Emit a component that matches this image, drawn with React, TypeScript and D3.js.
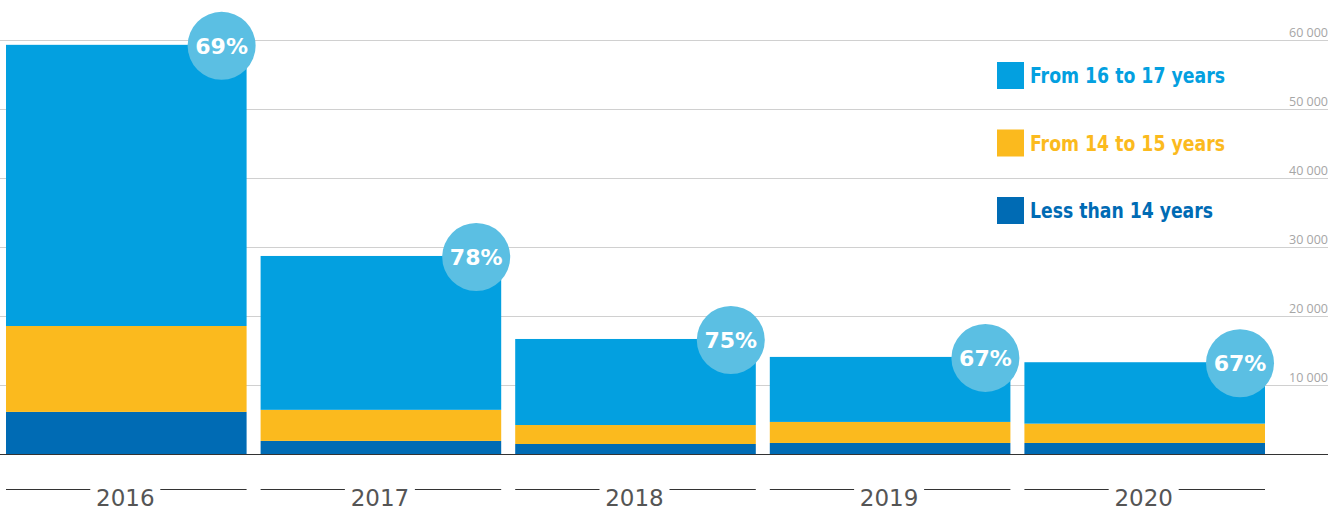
import React, { useRef, useEffect } from 'react';
import * as d3 from 'd3';

const years = ['2016', '2017', '2018', '2019', '2020'];
const lessThan14 = [6100, 1900, 1450, 1600, 1600];
const from14to15 = [12450, 4500, 2750, 3050, 2800];
const from16to17 = [40750, 22300, 12470, 9420, 8900];
const shareLabels = ['69%', '78%', '75%', '67%', '67%'];
const yTicks = [10000, 20000, 30000, 40000, 50000, 60000];

const seriesNames = ['Less than 14 years', 'From 14 to 15 years', 'From 16 to 17 years'];
const seriesColors = ['#006bb4', '#fbba1e', '#03a0e0'];

function App() {
  const chartRef = useRef<SVGSVGElement>(null);

  useEffect(() => {
    document.body.style.margin = '0';
    drawChart();
  }, []);

  const drawChart = () => {
    const width = 1342;
    const height = 512;
    const baseY = 454;
    const gridRight = 1328;

    const svg = d3.select(chartRef.current);
    svg.selectAll('*').remove();

    const data = years.map((year, i) => ({
      year,
      less: lessThan14[i],
      mid: from14to15[i],
      top: from16to17[i],
      share: shareLabels[i],
    }));

    const x = d3.scaleBand().domain(years).range([6, 1265]).paddingInner(0.055).paddingOuter(0);
    const y = d3.scaleLinear().domain([0, 60000]).range([baseY, 40]);

    // Gridlines with labels on the right
    const grid = svg.append('g');
    grid
      .selectAll('line')
      .data(yTicks)
      .enter()
      .append('line')
      .attr('x1', 0)
      .attr('x2', gridRight)
      .attr('y1', (d) => Math.round(y(d)) + 0.5)
      .attr('y2', (d) => Math.round(y(d)) + 0.5)
      .attr('stroke', '#d0d0d0')
      .attr('stroke-width', 1);
    grid
      .selectAll('text')
      .data(yTicks)
      .enter()
      .append('text')
      .attr('x', gridRight)
      .attr('y', (d) => y(d) - 3)
      .attr('text-anchor', 'end')
      .attr('font-family', 'Open Sans, sans-serif')
      .attr('font-size', 12.5)
      .attr('fill', '#a6a6a6')
      .text((d) => d3.format(',')(d).replace(',', ' '));

    // Stacked bars
    const stack = d3.stack<any>().keys(['less', 'mid', 'top'])(data);
    svg
      .append('g')
      .selectAll('g')
      .data(stack)
      .enter()
      .append('g')
      .attr('fill', (_d, i) => seriesColors[i])
      .selectAll('rect')
      .data((d) => d)
      .enter()
      .append('rect')
      .attr('x', (d: any) => x(d.data.year)!)
      .attr('y', (d) => y(d[1]))
      .attr('width', x.bandwidth())
      .attr('height', (d) => y(d[0]) - y(d[1]));

    // Baseline
    svg
      .append('line')
      .attr('x1', 0)
      .attr('x2', gridRight)
      .attr('y1', baseY + 0.5)
      .attr('y2', baseY + 0.5)
      .attr('stroke', '#333')
      .attr('stroke-width', 1);

    // Share bubbles
    const bubbles = svg
      .append('g')
      .selectAll('g')
      .data(data)
      .enter()
      .append('g')
      .attr('transform', (d) => `translate(${x(d.year)! + x.bandwidth() - 25},${y(d.less + d.mid + d.top) + 1})`);
    bubbles.append('circle').attr('r', 34).attr('fill', '#5bbfe3');
    bubbles
      .append('text')
      .attr('text-anchor', 'middle')
      .attr('dy', 8)
      .attr('font-family', 'DejaVu Sans, sans-serif')
      .attr('font-weight', 'bold')
      .attr('font-size', 22)
      .attr('fill', '#fff')
      .text((d) => d.share);

    // Year labels with side rules
    const labels = svg
      .append('g')
      .selectAll('g')
      .data(years)
      .enter()
      .append('g');
    labels
      .append('line')
      .attr('x1', (d) => x(d)!)
      .attr('x2', (d) => x(d)! + x.bandwidth() / 2 - 36)
      .attr('y1', 489.5)
      .attr('y2', 489.5)
      .attr('stroke', '#333');
    labels
      .append('line')
      .attr('x1', (d) => x(d)! + x.bandwidth() / 2 + 34)
      .attr('x2', (d) => x(d)! + x.bandwidth())
      .attr('y1', 489.5)
      .attr('y2', 489.5)
      .attr('stroke', '#333');
    labels
      .append('text')
      .attr('x', (d) => x(d)! + x.bandwidth() / 2 - 1)
      .attr('y', 506)
      .attr('text-anchor', 'middle')
      .attr('font-family', 'DejaVu Sans, sans-serif')
      .attr('font-size', 23)
      .attr('fill', '#555')
      .text((d) => d);

    // Legend (top entry first)
    const legendOrder = [2, 1, 0];
    const legend = svg
      .append('g')
      .selectAll('g')
      .data(legendOrder)
      .enter()
      .append('g')
      .attr('transform', (_d, i) => `translate(997,${62 + i * 67.5})`);
    legend.append('rect').attr('width', 27).attr('height', 27).attr('fill', (d) => seriesColors[d]);
    legend
      .append('text')
      .attr('x', 33)
      .attr('y', 21)
      .attr('font-family', 'Liberation Sans Narrow, DejaVu Sans Condensed, sans-serif')
      .attr('font-weight', 'bold')
      .attr('font-size', 21)
      .attr('fill', (d) => seriesColors[d])
      .attr('textLength', (d) => (d === 0 ? 183 : 195))
      .attr('lengthAdjust', 'spacingAndGlyphs')
      .text((d) => seriesNames[d]);

    svg.attr('width', width).attr('height', height);
  };

  return <svg ref={chartRef} width={1342} height={512} style={{ display: 'block' }} />;
}

export default App;
